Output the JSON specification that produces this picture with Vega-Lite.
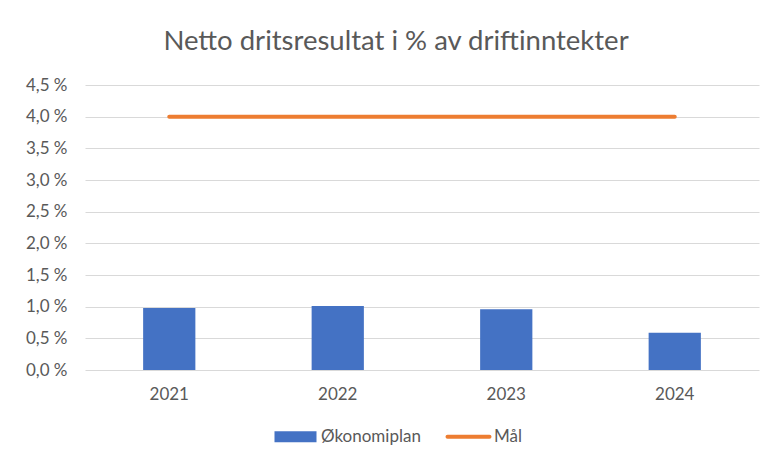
{
  "$schema": "https://vega.github.io/schema/vega-lite/v6.json",
  "autosize": "none",
  "width": 674,
  "height": 285,
  "padding": {"left": 85, "top": 85, "right": 13, "bottom": 93},
  "background": "white",
  "title": {
    "text": "Netto dritsresultat i % av driftinntekter",
    "font": "Lato",
    "fontSize": 27.5,
    "fontWeight": "normal",
    "color": "#595959",
    "anchor": "middle",
    "dx": -26,
    "offset": 21
  },
  "data": {
    "values": [
      {"year": "2021", "okonomiplan": 0.98, "mal": 4.0},
      {"year": "2022", "okonomiplan": 1.01, "mal": 4.0},
      {"year": "2023", "okonomiplan": 0.96, "mal": 4.0},
      {"year": "2024", "okonomiplan": 0.59, "mal": 4.0}
    ]
  },
  "encoding": {
    "x": {
      "field": "year",
      "type": "nominal",
      "scale": {"paddingInner": 0.69, "paddingOuter": 0.345},
      "axis": {
        "title": null,
        "labelAngle": 0,
        "labelFont": "Lato",
        "labelFontSize": 17,
        "labelColor": "#595959",
        "labelPadding": 16,
        "ticks": false,
        "domain": false,
        "grid": false
      }
    }
  },
  "layer": [
    {
      "mark": {"type": "bar", "color": "#4472C4"},
      "encoding": {
        "y": {
          "field": "okonomiplan",
          "type": "quantitative",
          "scale": {"domain": [0, 4.5]},
          "axis": {
            "title": null,
            "values": [0, 0.5, 1, 1.5, 2, 2.5, 3, 3.5, 4, 4.5],
            "labelExpr": "replace(format(datum.value, '.1f'), '.', ',') + ' %'",
            "labelFont": "Lato",
            "labelFontSize": 17,
            "labelColor": "#595959",
            "labelPadding": 18,
            "labelOverlap": false,
            "ticks": false,
            "domain": false,
            "grid": true,
            "gridColor": "#D9D9D9",
            "gridWidth": 1
          }
        },
        "fill": {
          "datum": "Økonomiplan",
          "type": "nominal",
          "scale": {"domain": ["Økonomiplan", "Mål"], "range": ["#4472C4", "#ED7D31"]},
          "legend": {
            "title": null,
            "orient": "none",
            "legendX": 202,
            "legendY": 343,
            "direction": "horizontal",
            "labelFont": "Lato",
            "labelFontSize": 17,
            "labelColor": "#595959",
            "symbolSize": 1764,
            "columnPadding": 18,
            "labelOffset": 17,
            "encode": {
              "symbols": {
                "update": {
                  "shape": {"signal": "datum.value === 'Mål' ? 'M-1,0H1' : 'M-1,-0.26H1V0.26H-1Z'"},
                  "size": {"value": 1764},
                  "fill": {"signal": "datum.value === 'Mål' ? 'transparent' : '#4472C4'"},
                  "stroke": {"signal": "datum.value === 'Mål' ? '#ED7D31' : '#4472C4'"},
                  "strokeWidth": {"signal": "datum.value === 'Mål' ? 4 : 0"},
                  "strokeCap": {"value": "round"},
                  "opacity": {"value": 1}
                }
              }
            }
          }
        }
      }
    },
    {
      "mark": {"type": "line", "color": "#ED7D31", "strokeWidth": 4, "strokeCap": "round"},
      "encoding": {
        "y": {
          "field": "mal",
          "type": "quantitative",
          "axis": {
            "title": null,
            "values": [0, 0.5, 1, 1.5, 2, 2.5, 3, 3.5, 4, 4.5],
            "labelExpr": "replace(format(datum.value, '.1f'), '.', ',') + ' %'",
            "labelFont": "Lato",
            "labelFontSize": 17,
            "labelColor": "#595959",
            "labelPadding": 18,
            "labelOverlap": false,
            "ticks": false,
            "domain": false,
            "grid": true,
            "gridColor": "#D9D9D9",
            "gridWidth": 1
          }
        }
      }
    }
  ],
  "config": {
    "view": {"stroke": null}
  }
}
